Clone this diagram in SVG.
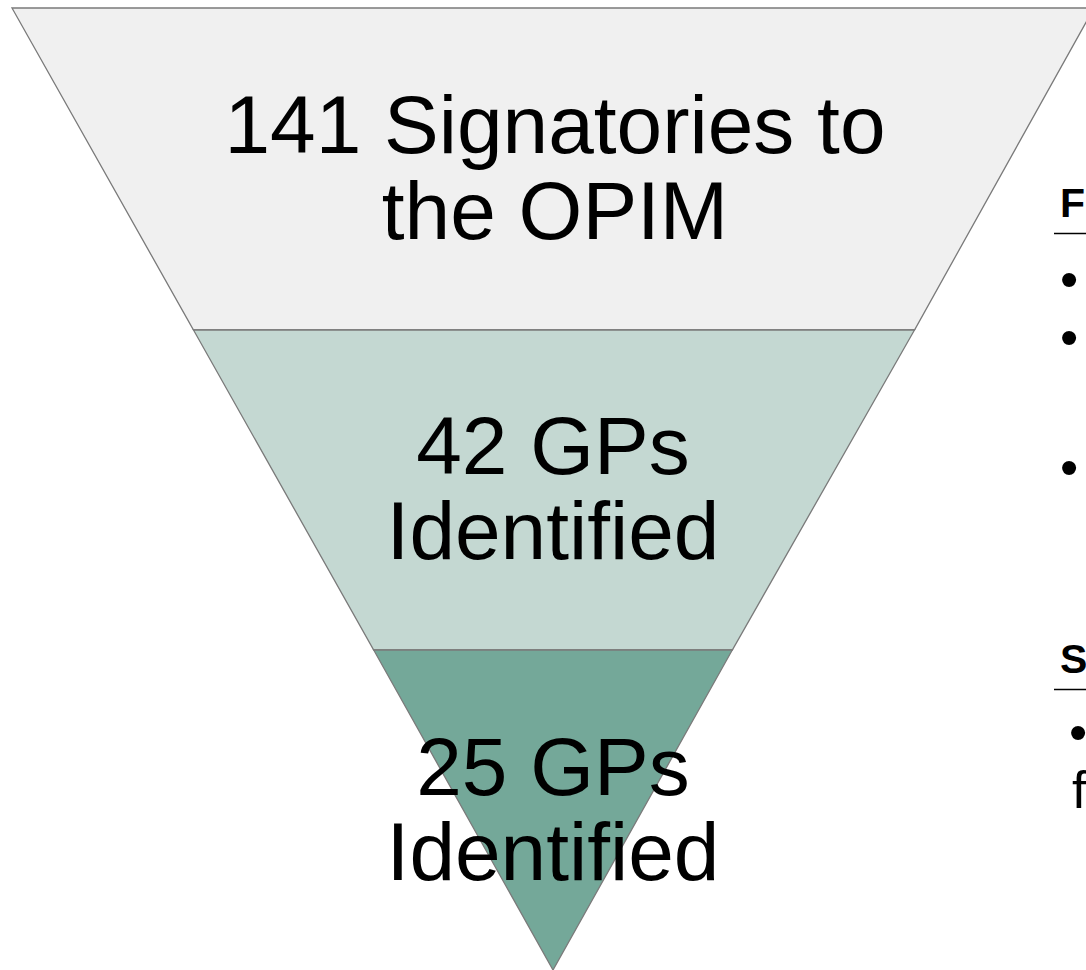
<svg xmlns="http://www.w3.org/2000/svg" width="1086" height="970" viewBox="0 0 1086 970">
<style>
.lvl{stroke:#7a7a7a;stroke-width:1.3}
.big{font-family:"Liberation Sans",Arial,sans-serif;font-size:82px;fill:#000;text-anchor:middle}
.hd{font-family:"Liberation Sans",Arial,sans-serif;font-weight:bold;font-size:41px;fill:#000}
.bt{font-family:"Liberation Sans",Arial,sans-serif;font-size:52px;fill:#000}
.ul{stroke:#000;stroke-width:1.5}
</style>
<rect width="1086" height="970" fill="#fff"/>
<g id="level1">
<polygon class="lvl" points="12,8 1094,8 914.5,330 193.5,330" fill="#f0f0f0"/>
<text class="big" x="555" y="153">141 Signatories to</text>
<text class="big" x="555" y="239">the OPIM</text>
</g>
<g id="level2">
<polygon class="lvl" points="193.5,330 914.5,330 732.3,650 373.7,650" fill="#c4d8d2"/>
<text class="big" x="553" y="474">42 GPs</text>
<text class="big" x="553" y="559">Identified</text>
</g>
<g id="level3">
<polygon class="lvl" points="373.7,650 732.3,650 553,970" fill="#74a899"/>
<text class="big" x="553" y="795">25 GPs</text>
<text class="big" x="553" y="880">Identified</text>
</g>
<g id="side-F">
<text class="hd" x="1060" y="217">F</text>
<line class="ul" x1="1054" y1="233.5" x2="1086" y2="233.5"/>
<text class="bt" x="1060" y="297">•</text>
<text class="bt" x="1060" y="355">•</text>
<text class="bt" x="1060" y="485">•</text>
</g>
<g id="side-S">
<text class="hd" x="1060" y="673">S</text>
<line class="ul" x1="1054" y1="689.5" x2="1086" y2="689.5"/>
<text class="bt" x="1069" y="750" font-size="38">•</text>
<text class="bt" x="1072" y="808" font-size="40">f</text>
</g>
<g id="connectors"/>
</svg>
